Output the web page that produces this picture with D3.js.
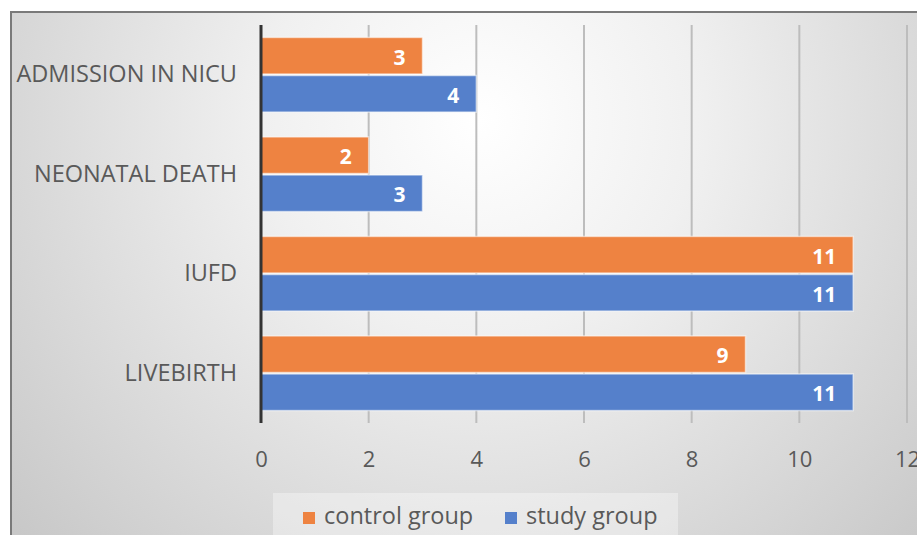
<!DOCTYPE html>
<html><head><meta charset="utf-8">
<script src="https://cdn.jsdelivr.net/npm/d3@7"></script>
<style>html,body{margin:0;padding:0;background:#fff;}svg{display:block;}</style>
</head><body>
<script>
const categories = ["ADMISSION IN NICU", "NEONATAL DEATH", "IUFD", "LIVEBIRTH"];
const seriesNames = ["control group", "study group"];
const controlValues = [3, 2, 11, 9];
const studyValues = [4, 3, 11, 11];
const tickValues = [0, 2, 4, 6, 8, 10, 12];
const colors = ["#EE8341", "#5580CB"];

const FONT = "'Open Sans', Lato, sans-serif";
const W = 917, H = 535;
const svg = d3.select("body").append("svg").attr("width", W).attr("height", H);
const defs = svg.append("defs");
const grad = defs.append("radialGradient").attr("id", "bg")
  .attr("gradientUnits", "userSpaceOnUse").attr("cx", 480).attr("cy", 120).attr("r", 620);
grad.append("stop").attr("offset", "0%").attr("stop-color", "#ffffff");
grad.append("stop").attr("offset", "35%").attr("stop-color", "#f0f0f0");
grad.append("stop").attr("offset", "100%").attr("stop-color", "#c8c8c8");

svg.append("rect").attr("x", 11).attr("y", 12).attr("width", W).attr("height", H)
  .attr("fill", "url(#bg)").attr("stroke", "#7a7a7a").attr("stroke-width", 2);

const x = d3.scaleLinear().domain([0, 12]).range([261, 907]);
const y = d3.scaleBand().domain(categories).range([25, 423]).paddingInner(0.25).paddingOuter(0.125);
const ySub = d3.scaleBand().domain(seriesNames).range([0, y.bandwidth()]).paddingInner(0.04);

// gridlines
svg.append("g").selectAll("line").data(tickValues.filter(d => d > 0)).join("line")
  .attr("x1", d => x(d)).attr("x2", d => x(d)).attr("y1", 25).attr("y2", 423)
  .attr("stroke", "#bdbdbd").attr("stroke-width", 2);

// x axis labels
const xAxis = d3.axisBottom(x).tickValues(tickValues).tickSize(0).tickPadding(0).tickFormat(d3.format("d"));
const gx = svg.append("g").attr("transform", "translate(0,467)").call(xAxis);
gx.select(".domain").remove();
gx.selectAll("text").attr("font-family", FONT).attr("font-size", 22)
  .attr("fill", "#595959").attr("dy", 0);

// bars
const data = categories.map((c, i) => ({cat: c, vals: [controlValues[i], studyValues[i]]}));
const groups = svg.append("g").selectAll("g").data(data).join("g")
  .attr("transform", d => `translate(0,${y(d.cat)})`);
groups.selectAll("rect").data(d => d.vals.map((v, j) => ({v, s: seriesNames[j], j}))).join("rect")
  .attr("x", x(0)).attr("y", d => ySub(d.s)).attr("width", d => x(d.v) - x(0)).attr("height", ySub.bandwidth())
  .attr("fill", d => colors[d.j]).attr("stroke", "rgba(255,255,255,0.55)").attr("stroke-width", 1.5);
groups.selectAll("text").data(d => d.vals.map((v, j) => ({v, s: seriesNames[j], j}))).join("text")
  .attr("x", d => x(d.v) - 17).attr("y", d => ySub(d.s) + ySub.bandwidth() / 2 + 1)
  .attr("text-anchor", "end").attr("dominant-baseline", "central")
  .attr("font-family", FONT).attr("font-weight", "bold").attr("font-size", 21)
  .attr("fill", "#ffffff").text(d => d.v);

// y axis
const yAxis = d3.axisLeft(y).tickSize(0).tickPadding(24);
const gy = svg.append("g").attr("transform", `translate(${x(0)},0)`).call(yAxis);
gy.select(".domain").remove();
gy.selectAll("text").attr("font-family", FONT).attr("font-size", 23.5).attr("fill", "#595959");
svg.append("line").attr("x1", x(0)).attr("x2", x(0)).attr("y1", 25).attr("y2", 423)
  .attr("stroke", "#333333").attr("stroke-width", 3);

// legend
const lg = svg.append("g");
lg.append("rect").attr("x", 273).attr("y", 493).attr("width", 405).attr("height", 50)
  .attr("fill", "rgba(255,255,255,0.35)");
const legX = [303, 505];
seriesNames.forEach((s, i) => {
  lg.append("rect").attr("x", legX[i]).attr("y", 512).attr("width", 12).attr("height", 12).attr("fill", colors[i]);
  lg.append("text").attr("x", legX[i] + 21).attr("y", 524)
    .attr("font-family", FONT).attr("font-size", 23.5).attr("fill", "#595959").text(s);
});
</script>
</body></html>
